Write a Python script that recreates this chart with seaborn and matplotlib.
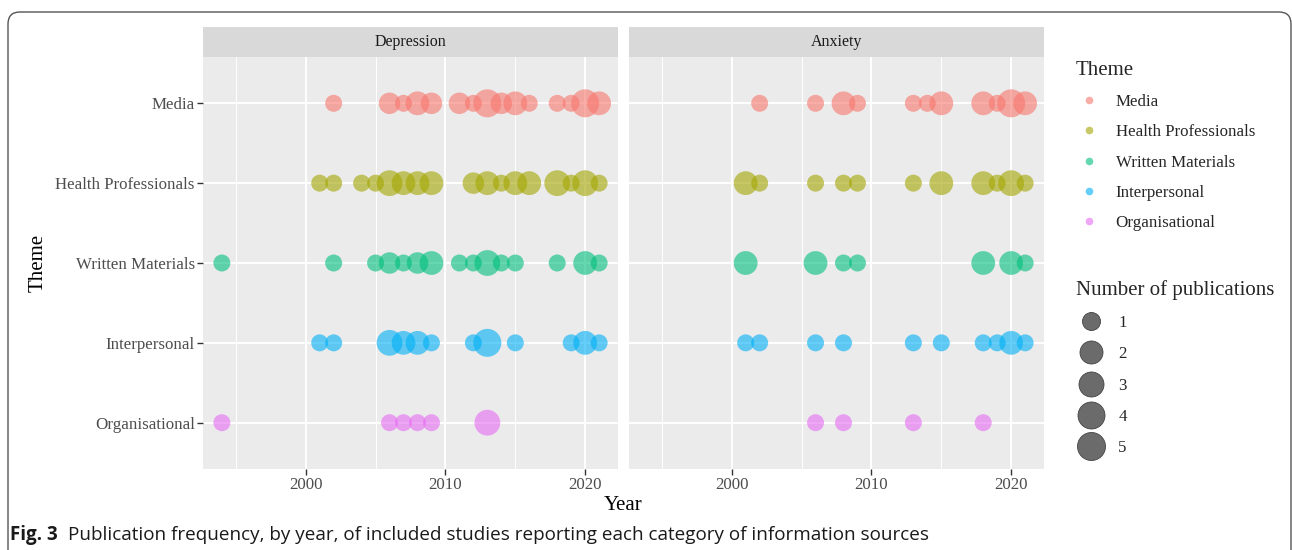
import numpy as np
import pandas as pd
import seaborn as sns
import matplotlib.pyplot as plt
from matplotlib.lines import Line2D
from matplotlib.patches import FancyBboxPatch, Rectangle
from matplotlib.ticker import FixedLocator
from matplotlib.transforms import IdentityTransform

themes = ['Media', 'Health Professionals', 'Written Materials', 'Interpersonal', 'Organisational']
panels = ['Depression', 'Anxiety']
colors = ['#F8766D', '#A3A500', '#00BF7D', '#00B0F6', '#E76BF3']
count_levels = [1, 2, 3, 4, 5]

# Depression
dep_media_year = [2002, 2006, 2007, 2008, 2009, 2011, 2012, 2013, 2014, 2015, 2016, 2018, 2019, 2020, 2021]
dep_media_n = [1, 2, 1, 3, 2, 2, 1, 5, 2, 3, 1, 1, 1, 5, 3]
dep_health_year = [2001, 2002, 2004, 2005, 2006, 2007, 2008, 2009, 2012, 2013, 2014, 2015, 2016, 2018, 2019, 2020, 2021]
dep_health_n = [1, 1, 1, 1, 4, 3, 3, 3, 2, 3, 1, 3, 3, 4, 1, 4, 1]
dep_written_year = [1994, 2002, 2005, 2006, 2007, 2008, 2009, 2011, 2012, 2013, 2014, 2015, 2018, 2020, 2021]
dep_written_n = [1, 1, 1, 2, 1, 2, 3, 1, 1, 4, 1, 1, 1, 3, 1]
dep_inter_year = [2001, 2002, 2006, 2007, 2008, 2009, 2012, 2013, 2015, 2019, 2020, 2021]
dep_inter_n = [1, 1, 4, 3, 3, 1, 1, 5, 1, 1, 3, 1]
dep_org_year = [1994, 2006, 2007, 2008, 2009, 2013]
dep_org_n = [1, 1, 1, 1, 1, 4]

# Anxiety
anx_media_year = [2002, 2006, 2008, 2009, 2013, 2014, 2015, 2018, 2019, 2020, 2021]
anx_media_n = [1, 1, 3, 1, 1, 1, 3, 3, 1, 5, 3]
anx_health_year = [2001, 2002, 2006, 2008, 2009, 2013, 2015, 2018, 2019, 2020, 2021]
anx_health_n = [3, 1, 1, 1, 1, 1, 3, 3, 1, 4, 1]
anx_written_year = [2001, 2006, 2008, 2009, 2018, 2020, 2021]
anx_written_n = [3, 3, 1, 1, 3, 3, 1]
anx_inter_year = [2001, 2002, 2006, 2008, 2013, 2015, 2018, 2019, 2020, 2021]
anx_inter_n = [1, 1, 1, 1, 1, 1, 1, 1, 3, 1]
anx_org_year = [2006, 2008, 2013, 2018]
anx_org_n = [1, 1, 1, 1]

series = {
    'Depression': [(dep_media_year, dep_media_n), (dep_health_year, dep_health_n),
                   (dep_written_year, dep_written_n), (dep_inter_year, dep_inter_n),
                   (dep_org_year, dep_org_n)],
    'Anxiety': [(anx_media_year, anx_media_n), (anx_health_year, anx_health_n),
                (anx_written_year, anx_written_n), (anx_inter_year, anx_inter_n),
                (anx_org_year, anx_org_n)],
}

frames = []
for panel in panels:
    for theme, (yrs, ns) in zip(themes, series[panel]):
        frames.append(pd.DataFrame({'panel': panel, 'theme': theme, 'year': yrs, 'n': ns}))
df = pd.concat(frames, ignore_index=True)
df['theme'] = pd.Categorical(df['theme'], categories=themes)

# marker areas (pt^2) for 1..5 publications
diam_px = [17, 21.5, 23.8, 25.8, 28]
size_area = {k: (d * 0.72) ** 2 for k, d in zip(count_levels, diam_px)}

sns.set_theme(style='darkgrid', rc={'axes.facecolor': '#ebebeb', 'grid.color': 'white'})
plt.rcParams['font.family'] = ['Liberation Serif', 'DejaVu Serif']

W, H = 1292, 550
fig = plt.figure(figsize=(W / 100, H / 100), dpi=100)
fig.patch.set_facecolor('white')

ax1 = fig.add_axes([203 / W, (H - 469) / H, 415 / W, 412 / H])
ax2 = fig.add_axes([629 / W, (H - 469) / H, 415 / W, 412 / H], sharey=ax1)

for ax, panel in zip([ax1, ax2], panels):
    sub = df[df['panel'] == panel]
    sns.scatterplot(data=sub, x='year', y='theme', hue='theme', hue_order=themes,
                    palette=colors, size='n', sizes=size_area, alpha=0.6,
                    linewidth=0, legend=False, ax=ax, zorder=3)
    ax.set_xlim(1992.65, 2022.35)
    ax.xaxis.set_major_locator(FixedLocator([2000, 2010, 2020]))
    ax.xaxis.set_minor_locator(FixedLocator([1995, 2005, 2015]))
    ax.grid(which='major', color='white', lw=1.4)
    ax.grid(which='minor', axis='x', color='white', lw=0.7)
    ax.set_axisbelow(True)
    for s in ax.spines.values():
        s.set_visible(False)
    ax.set_xlabel('')
    ax.set_ylabel('')
    ax.tick_params(axis='both', which='major', length=4, width=1, color='#333333',
                   labelcolor='#4d4d4d', labelsize=12.2, pad=2, bottom=True, left=True)
    ax.tick_params(axis='x', which='minor', length=0)
    ax.add_patch(Rectangle((0, 1), 1, 30 / 412, transform=ax.transAxes,
                           facecolor='#d9d9d9', edgecolor='none', clip_on=False))
    ax.text(0.5, 1 + 15 / 412, panel, transform=ax.transAxes, ha='center', va='center',
            fontsize=11.5, color='#1a1a1a')

ax1.set_ylim(len(themes) - 1 + 0.58, -0.58)
ax2.tick_params(axis='y', left=False, labelleft=False)

fig.text(623.5 / W, 1 - 505 / H, 'Year', ha='center', va='center', fontsize=15, color='black')
fig.text(38 / W, 1 - 263 / H, 'Theme', ha='center', va='center', rotation=90,
         fontsize=15, color='black')

theme_handles = [Line2D([], [], marker='o', ls='', markerfacecolor=c, markeredgecolor='none',
                        alpha=0.6, markersize=5.5) for c in colors]
leg1 = fig.legend(theme_handles, themes, title='Theme', loc='upper left',
                  bbox_to_anchor=(1064 / W, 1 - 49 / H), frameon=False, alignment='left',
                  fontsize=12.2, title_fontsize=15, labelspacing=0.84,
                  handlelength=1.5, handletextpad=0.85, borderpad=0.2)

size_handles = [Line2D([], [], marker='o', ls='', markerfacecolor='#6b6b6b',
                       markeredgecolor='#444444', markeredgewidth=0.6,
                       markersize=d * 0.72) for d in [18, 23, 25, 27, 28]]
leg2 = fig.legend(size_handles, [str(k) for k in count_levels], title='Number of publications',
                  loc='upper left', bbox_to_anchor=(1064 / W, 1 - 268 / H), frameon=False,
                  alignment='left', fontsize=12.2, title_fontsize=15, labelspacing=0.9,
                  handlelength=1.8, handletextpad=0.7, borderpad=0.2)

box = FancyBboxPatch((8, -40), 1283, 550 - 12 + 40, boxstyle='round,pad=0,rounding_size=12',
                     transform=IdentityTransform(), facecolor='none', edgecolor='#555555', lw=1)
fig.patches.append(box)

cap1 = fig.text(10 / W, 1 - 535 / H, 'Fig. 3', fontweight='bold', family='Open Sans',
                fontsize=13.5, va='center', color='#1a1a1a')
fig.canvas.draw()
bb = cap1.get_window_extent()
fig.text((bb.x1 + 10) / W, 1 - 535 / H,
         'Publication frequency, by year, of included studies reporting each category of information sources',
         family='Open Sans', fontsize=13.6, va='center', color='#1a1a1a')

fig.savefig('out.png', dpi=100)
